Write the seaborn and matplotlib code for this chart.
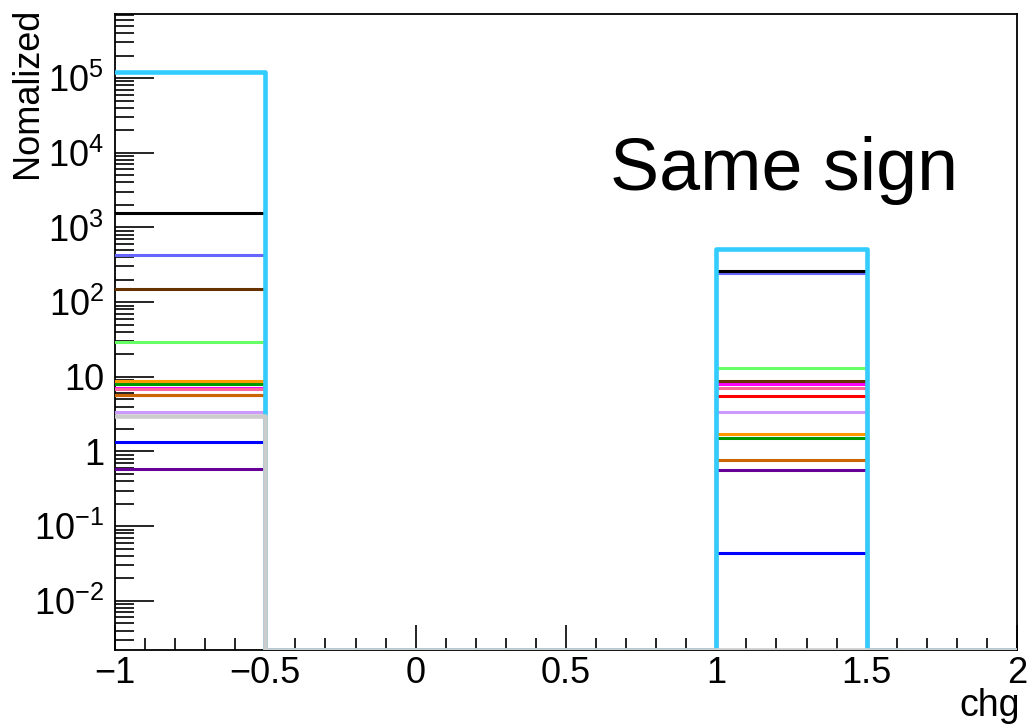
import numpy as np
import pandas as pd
import seaborn as sns
import matplotlib
matplotlib.use("Agg")
import matplotlib.pyplot as plt
from matplotlib.ticker import LogLocator, FuncFormatter, MultipleLocator, NullFormatter

# ---- data -------------------------------------------------------------
bin_edges = [-1.0, -0.5, 0.0, 0.5, 1.0, 1.5, 2.0]
series_names = ["magenta", "red", "blueviolet", "black", "brown", "lightgreen",
                "darkgreen", "orange", "pink", "darkorange", "lavender",
                "blue", "purple", "cyan", "gray"]
series_colors = ["#ff00ff", "#ff0000", "#6666ff", "#000000", "#663300", "#66ff66",
                 "#009900", "#ff9900", "#ff6699", "#cc6600", "#cc99ff",
                 "#0000ff", "#660099", "#33ccff", "#cccccc"]
# contents of bin [-1,-0.5] and bin [1,1.5]; all other bins are empty
left_bin = [7.0, 5.7, 430.0, 1570.0, 150.0, 29.5,
            8.0, 8.8, 6.9, 5.7, 3.4,
            1.33, 0.59, 1.2e5, 2.95]
right_bin = [8.0, 5.6, 242.0, 263.0, 8.9, 13.3,
             1.5, 1.72, 7.0, 0.76, 3.4,
             0.0436, 0.557, 518.0, 0.0]

y_min, y_max = 0.0022, 7.2e5
x_label = "chg"
y_label = "Nomalized"
annotation = "Same sign"

# ---- long-form table --------------------------------------------------
rows = []
for name, lv, rv in zip(series_names, left_bin, right_bin):
    contents = [lv, 0.0, 0.0, 0.0, rv, 0.0]
    contents = contents + [contents[-1]]
    for x, c in zip(bin_edges, contents):
        rows.append({"series": name, "x": x, "y": max(c, y_min)})
df = pd.DataFrame(rows)

# ---- style ------------------------------------------------------------
sns.set_theme(style="white")
plt.rcParams["font.family"] = ["Liberation Sans", "DejaVu Sans"]
plt.rcParams["mathtext.fontset"] = "custom"
plt.rcParams["mathtext.rm"] = "Liberation Sans"
plt.rcParams["mathtext.it"] = "Liberation Sans:italic"
plt.rcParams["mathtext.bf"] = "Liberation Sans:bold"
plt.rcParams["text.color"] = "black"
plt.rcParams["xtick.color"] = "black"
plt.rcParams["ytick.color"] = "black"
plt.rcParams["axes.labelcolor"] = "black"

fig = plt.figure(figsize=(10.27, 7.24), dpi=100)
ax = fig.add_axes([115 / 1027, 1 - 650 / 724, (1017 - 115) / 1027, (650 - 14) / 724])

ax.set_yscale("log")
thin = [n for n in series_names if n not in ("cyan", "gray")]
sns.lineplot(data=df[df["series"].isin(thin)], x="x", y="y", hue="series", hue_order=thin,
             palette=dict(zip(series_names, series_colors)), estimator=None,
             sort=False, drawstyle="steps-post", linewidth=2.2, legend=False, ax=ax,
             zorder=3)
for name in ("cyan", "gray"):
    sns.lineplot(data=df[df["series"] == name], x="x", y="y",
                 color=series_colors[series_names.index(name)], estimator=None,
                 sort=False, drawstyle="steps-post", linewidth=3.3, legend=False, ax=ax,
                 zorder=3)

ax.set_xlim(-1, 2)
ax.set_ylim(y_min, y_max)

# ticks ROOT-like
ax.xaxis.set_major_locator(MultipleLocator(0.5))
ax.xaxis.set_minor_locator(MultipleLocator(0.1))
ax.xaxis.set_major_formatter(FuncFormatter(lambda v, p: f"{v:g}".replace("-", "\u2212")))

def yfmt(v, p):
    e = int(round(np.log10(v)))
    if e == 0:
        return "1"
    if e == 1:
        return "10"
    return r"$\mathregular{10^{%d}}$" % e

ax.yaxis.set_major_locator(LogLocator(base=10, numticks=20))
ax.yaxis.set_minor_locator(LogLocator(base=10, subs=np.arange(2, 10), numticks=50))
ax.yaxis.set_major_formatter(FuncFormatter(yfmt))
ax.yaxis.set_minor_formatter(NullFormatter())

ax.tick_params(axis="x", which="major", direction="in", length=18, width=1.2,
               labelsize=26, pad=4, top=False, bottom=True)
ax.tick_params(axis="x", which="minor", direction="in", length=9, width=1.2,
               top=False, bottom=True)
ax.tick_params(axis="y", which="major", direction="in", length=28, width=1.2,
               labelsize=26, pad=8, left=True, right=False)
ax.tick_params(axis="y", which="minor", direction="in", length=14, width=1.2,
               left=True, right=False)

for s in ax.spines.values():
    s.set_color("black")
    s.set_linewidth(1.3)
    s.set_visible(True)

ax.set_xlabel("")
ax.set_ylabel("")
ax.xaxis.label.set_visible(False)
ax.yaxis.label.set_visible(False)
fig.text(1020 / 1027, 1 - 706 / 724, x_label, ha="right", va="center", fontsize=27)
fig.text(28 / 1027, 1 - 8 / 724, y_label, ha="center", va="top", rotation=90, fontsize=26)
fig.text(610 / 1027, 1 - 190 / 724, annotation, ha="left", va="baseline", fontsize=53)

fig.savefig("out.png", dpi=100)
